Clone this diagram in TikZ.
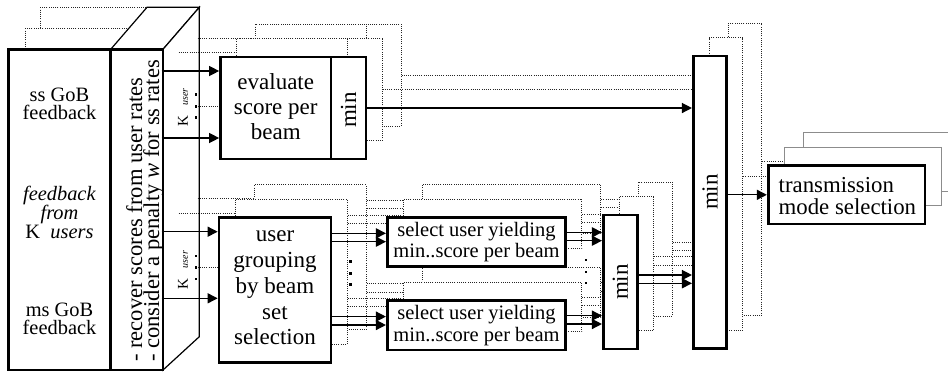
\documentclass[tikz,border=0pt]{standalone}
\usepackage{fontspec}
\setmainfont{Liberation Serif}
\usetikzlibrary{arrows.meta, calc}

\tikzset{
  blk/.style={draw, fill=white, inner sep=0pt},
  txt/.style={align=center, inner sep=0pt},
  conn/.style={line width=0.65pt, -{Triangle[length=5pt,width=5pt]}},
  dotline/.style={line width=0.5pt, dash pattern=on 0.5pt off 0.6pt, draw=black!85},
  ghost/.style={line width=0.5pt, draw=black!45},
  face/.style={draw, fill=white, line width=0.6pt},
}
\newcommand{\boxfont}{\fontsize{11.5}{12.5}\selectfont}

% one layer of the chain: #1 name suffix, #2 block style, #3 connector style, #4 style of the last block
\newcommand{\drawlayer}[4]{%
  \node[blk,#2,minimum width=55.25pt,minimum height=51pt] (eval#1) at (275.75,108) {};
  \node[blk,#2,minimum width=17.5pt,minimum height=51pt] (evmin#1) at (348.5,108) {};
  \node[blk,#2,minimum width=56pt,minimum height=72.5pt] (group#1) at (275,290.2) {};
  \node[blk,#2,minimum width=89.2pt,minimum height=24.7pt] (selA#1) at (476.5,242) {};
  \node[blk,#2,minimum width=89.2pt,minimum height=24.7pt] (selB#1) at (476.5,325.3) {};
  \node[blk,#2,minimum width=17pt,minimum height=67pt] (minA#1) at (620.3,282) {};
  \node[blk,#2,minimum width=16.7pt,minimum height=146.2pt] (minB#1) at (710,202.2) {};
  \node[blk,#4,minimum width=78.4pt,minimum height=29.2pt] (trans#1) at (846.6,194.8) {};
  \draw[#3] ($(eval#1.west)+(-57.5,-37)$) -- ($(eval#1.west)+(0,-37)$);
  \draw[#3] ($(group#1.west)+(-56,-58.5)$) -- ($(group#1.west)+(0,-58.5)$);
  \foreach \dy in {-8.7,-0.3}{
    \draw[#3] ($(group#1.east |- selA#1.west)+(0,\dy)$) -- ($(selA#1.west)+(0,\dy)$);
    \draw[#3] ($(group#1.east |- selB#1.west)+(0,\dy)$) -- ($(selB#1.west)+(0,\dy)$);
    \draw[#3] ($(selA#1.east)+(0,\dy-1)$) -- ($(minA#1.west |- selA#1.east)+(0,\dy-1)$);
    \draw[#3] ($(selB#1.east)+(0,\dy-1)$) -- ($(minA#1.west |- selB#1.east)+(0,\dy-1)$);
  }
  \draw[#3] ($(minA#1.east)+(0,-7)$) -- ($(minB#1.west |- minA#1.east)+(0,-7)$);
  \draw[#3] ($(minA#1.east)+(0,1.3)$) -- ($(minB#1.west |- minA#1.east)+(0,1.3)$);
  \draw[#3] (evmin#1.east) -- (evmin#1.east -| minB#1.west);
  \draw[#3] (minB#1.east |- trans#1.west) -- (trans#1.west);
}

\begin{document}
\begin{tikzpicture}[x=0.5pt, y=-0.5pt]
\useasboundingbox (0,0) rectangle (948,372);
\clip (0,0) rectangle (948,372);

% feedback panel, stacked
\draw[dotline, fill=white] (40.3,7.3) rectangle (195,328);
\draw[dotline, fill=white] (25.3,28.3) rectangle (180,349);
\draw[face] (110.7,49.3) -- ++(36.3,-42) -- ++(52.3,0) -- (163,49.3) -- cycle;
\draw[face] (163,49.3) -- ++(36.3,-42) -- ++(0,329.4) -- (163,370) -- cycle;
\node[blk, line width=1.35pt, minimum width=51.2pt, minimum height=160.35pt] (fbk) at (59.5,209.65) {};
\node[blk, line width=1.35pt, minimum width=26.15pt, minimum height=160.35pt] (slab) at (136.85,209.65) {};

% the layers behind, then the front one
\begin{scope}[shift={(35,-33)}]
  \drawlayer{c}{dotline}{dotline}{ghost}
\end{scope}
\begin{scope}[shift={(16,-18.3)}]
  \drawlayer{b}{dotline}{dotline}{ghost}
\end{scope}
\drawlayer{a}{line width=1.35pt}{conn}{line width=1.35pt}

\draw[conn] ($(evala.west)+(-57.5,30)$) -- ($(evala.west)+(0,30)$);
\draw[conn] ($(groupa.west)+(-56,8.1)$) -- ($(groupa.west)+(0,8.1)$);
\coordinate (etcA) at (197.5,106.5);
\coordinate (etcB) at (197.5,267);
\draw[dotline] (etcA) -- (etcA -| evala.west);
\draw[dotline] (etcB) -- (etcB -| groupa.west);

% vertical dots
\foreach \x/\y in {196/94.3, 196/106.7, 196/117.7, 196/256, 196/267.3, 196/279,
                   350.7/261.7, 350.7/273.3, 350.7/284.3, 586/260, 586/272, 586/283}
  \fill (\x-1.4,\y-1.4) rectangle ++(2.8,2.8);

% texts
\node[txt, font=\fontsize{10.2}{9}\selectfont] (ssfb) at (59.5,104) {ss GoB\\feedback};
\node[txt, font=\fontsize{10.2}{9.5}\selectfont] (kfb) at (59.5,212) {\textit{feedback}\\\textit{from}\\K\enspace\textit{users}};
\node[txt, font=\fontsize{10.2}{9}\selectfont] (msfb) at (59.5,319) {ms GoB\\feedback};
\node[txt, align=left, rotate=90, font=\fontsize{11.3}{8.5}\selectfont] (slabtxt) at (145,211)
  {- recover scores from user rates\\- consider a penalty \textit{w} for ss rates};
\node[rotate=90, inner sep=0pt, font=\fontsize{7.5}{7}\selectfont] (kuserA) at (183,107.5) {K\hspace{5pt}{\fontsize{5}{5}\selectfont\itshape user}};
\node[rotate=90, inner sep=0pt, font=\fontsize{7.5}{7}\selectfont] (kuserB) at (183,270) {K\hspace{5pt}{\fontsize{5}{5}\selectfont\itshape user}};
\node[txt, font=\boxfont] (evaltxt) at (275.75,107) {evaluate\\score per\\beam};
\node[rotate=90, inner sep=0pt, font=\boxfont] (evmintxt) at (348.5,110) {min};
\node[txt, font=\fontsize{11.5}{12.9}\selectfont] (grouptxt) at (275,288) {user\\grouping\\by beam\\set\\selection};
\node[txt, font=\fontsize{10.25}{10.85}\selectfont] (selAtxt) at (selAa) {select user yielding\\min..score per beam};
\node[txt, font=\fontsize{10.25}{10.85}\selectfont] (selBtxt) at (selBa) {select user yielding\\min..score per beam};
\node[rotate=90, inner sep=0pt, font=\boxfont] (minAtxt) at (minAa) {min};
\node[rotate=90, inner sep=0pt, font=\boxfont] (minBtxt) at (710,192) {min};
\node[txt, align=left, anchor=west, font=\fontsize{11.4}{10.85}\selectfont] (transtxt) at (778.3,196) {transmission\\mode selection};
\end{tikzpicture}
\end{document}
